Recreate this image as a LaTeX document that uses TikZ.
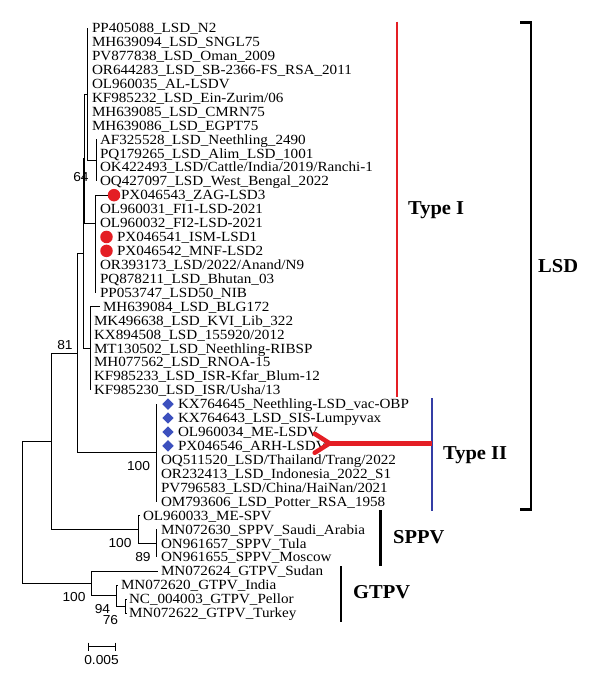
\documentclass[tikz,border=0pt]{standalone}
\usepackage{fontspec}
\setmainfont{Liberation Serif}
\newfontfamily\tipfont[FakeStretch=1.08]{Liberation Serif}
\newfontfamily\numfont[FakeStretch=1.06]{Liberation Sans}
\newfontfamily\labfont[FakeStretch=1.04]{Liberation Serif}
\usetikzlibrary{shapes.geometric}
\definecolor{tred}{RGB}{228,30,36}
\definecolor{tblue}{RGB}{52,62,165}
\definecolor{dblue}{RGB}{60,80,190}
\tikzset{
 br/.style={line width=0.9pt, black},
 tip/.style={anchor=west, inner sep=0pt, outer sep=0pt, font=\tipfont\fontsize{14}{14}\selectfont, text height=9.3pt, text depth=0pt},
 boot/.style={inner sep=0pt, font=\numfont\fontsize{13}{13}\selectfont},
 grp/.style={anchor=west, inner sep=0pt, font=\labfont\bfseries\fontsize{19.7}{20}\selectfont, text height=13pt, text depth=0pt},
 bar/.style={line width=2.5pt, black},
 rdot/.style={circle, fill=tred, inner sep=0pt, minimum size=12.5pt},
 dmd/.style={diamond, fill=dblue, inner sep=0pt, minimum width=11.5pt, minimum height=11.5pt},
}
\newcommand\mytip[5]{%
  \coordinate (e#2) at (#3,{28+13.93*#2});
  \node[tip] (lab#2) at (#4,{28+13.93*#2}) {#5};
  \draw[br] (#1) |- (e#2);
}
\begin{document}
\begin{tikzpicture}[x=1pt,y=-1pt]
\fill[white] (0,0) rectangle (600,686);
\useasboundingbox (0,0) rectangle (600,686);
% bootstrap values
\node[boot] (b64) at (81,177) {64};
\node[boot] (b81) at (65,345) {81};
\node[boot] (b100a) at (138.5,466) {100};
\node[boot] (b100b) at (120,543) {100};
\node[boot] (b89) at (143,557) {89};
\node[boot] (b100c) at (74,597) {100};
\node[boot] (b94) at (102.5,609) {94};
\node[boot] (b76) at (110.5,620) {76};
% internal nodes
\coordinate (root) at (22,512.4);
\coordinate (n5) at (51,441.33);
\coordinate (n4) at (77.5,353.19);
\coordinate (n3) at (83,253.5);
\coordinate (n2) at (84.3,158.6);
\coordinate (n1) at (87.7,94.17);
\coordinate (nb) at (96,160.34);
\coordinate (nc) at (95,223.02);
\coordinate (nc2) at (95,250.88);
\coordinate (nd) at (90,348.39);
\coordinate (ntwo) at (156,452.87);
\coordinate (sp) at (138,529.48);
\coordinate (sp2) at (156,543.41);
\coordinate (gt) at (91,583.46);
\coordinate (gt2) at (116,595.65);
\coordinate (gt3) at (125,606.1);
\draw[br] (root) |- (n5);
\draw[br] (root) |- (gt);
\draw[br] (n5) |- (n4);
\draw[br] (n5) |- (sp);
\draw[br] (n4) |- (n3);
\draw[br] (n4) |- (ntwo);
\draw[br] (n3) |- (n2);
\draw[br] (n3) |- (nd);
\draw[br] (n2) |- (n1);
\draw[br] (n2) |- (nc);
\draw[br] (n1) |- (nb);
\draw[br] (nc) |- (nc2);
\draw[br] (sp) |- (sp2);
\draw[br] (gt) |- (gt2);
\draw[br] (gt2) |- (gt3);
% tips
\mytip{n1}{0}{87.7}{92}{PP405088\_LSD\_N2}
\mytip{n1}{1}{87.7}{92}{MH639094\_LSD\_SNGL75}
\mytip{n1}{2}{87.7}{92}{PV877838\_LSD\_Oman\_2009}
\mytip{n1}{3}{87.7}{92}{OR644283\_LSD\_SB-2366-FS\_RSA\_2011}
\mytip{n1}{4}{87.7}{92}{OL960035\_AL-LSDV}
\mytip{n1}{5}{87.7}{92}{KF985232\_LSD\_Ein-Zurim/06}
\mytip{n1}{6}{87.7}{92}{MH639085\_LSD\_CMRN75}
\mytip{n1}{7}{87.7}{92}{MH639086\_LSD\_EGPT75}
\mytip{nb}{8}{96}{100}{AF325528\_LSD\_Neethling\_2490}
\mytip{nb}{9}{96}{100}{PQ179265\_LSD\_Alim\_LSD\_1001}
\mytip{nb}{10}{96}{100}{OK422493\_LSD/Cattle/India/2019/Ranchi-1}
\mytip{nb}{11}{96}{100}{OQ427097\_LSD\_West\_Bengal\_2022}
\node[rdot] (dot12) at (114,195.16) {};
\node[tip] (lab12) at (121,195.16) {PX046543\_ZAG-LSD3};
\draw[br] (nc) |- (dot12.west);
\mytip{nc2}{13}{95}{100}{OL960031\_FI1-LSD-2021}
\mytip{nc2}{14}{95}{100}{OL960032\_FI2-LSD-2021}
\mytip{nc2}{15}{95}{117}{PX046541\_ISM-LSD1}
\mytip{nc2}{16}{95}{117}{PX046542\_MNF-LSD2}
\mytip{nc2}{17}{95}{100}{OR393173\_LSD/2022/Anand/N9}
\mytip{nc2}{18}{95}{100}{PQ878211\_LSD\_Bhutan\_03}
\mytip{nc2}{19}{95}{100}{PP053747\_LSD50\_NIB}
\node[rdot] (dot15) at (106.5,236.95) {};
\node[rdot] (dot16) at (106.5,250.88) {};
\mytip{nd}{20}{100}{103}{MH639084\_LSD\_BLG172}
\mytip{nd}{21}{90}{94}{MK496638\_LSD\_KVI\_Lib\_322}
\mytip{nd}{22}{90}{94}{KX894508\_LSD\_155920/2012}
\mytip{nd}{23}{90}{94}{MT130502\_LSD\_Neethling-RIBSP}
\mytip{nd}{24}{90}{94}{MH077562\_LSD\_RNOA-15}
\mytip{nd}{25}{90}{94}{KF985233\_LSD\_ISR-Kfar\_Blum-12}
\mytip{nd}{26}{90}{94}{KF985230\_LSD\_ISR/Usha/13}
\mytip{ntwo}{27}{156}{178}{KX764645\_Neethling-LSD\_vac-OBP}
\mytip{ntwo}{28}{156}{178}{KX764643\_LSD\_SIS-Lumpyvax}
\mytip{ntwo}{29}{156}{178}{OL960034\_ME-LSDV}
\mytip{ntwo}{30}{156}{178}{PX046546\_ARH-LSDV}
\mytip{ntwo}{31}{156}{161}{OQ511520\_LSD/Thailand/Trang/2022}
\mytip{ntwo}{32}{156}{161}{OR232413\_LSD\_Indonesia\_2022\_S1}
\mytip{ntwo}{33}{156}{161}{PV796583\_LSD/China/HaiNan/2021}
\mytip{ntwo}{34}{156}{161}{OM793606\_LSD\_Potter\_RSA\_1958}
\node[dmd] (dm27) at (168,404.11) {};
\node[dmd] (dm28) at (168,418.04) {};
\node[dmd] (dm29) at (168,431.97) {};
\node[dmd] (dm30) at (168,445.90) {};
\mytip{sp}{35}{140}{143}{OL960033\_ME-SPV}
\mytip{sp2}{36}{156}{161}{MN072630\_SPPV\_Saudi\_Arabia}
\mytip{sp2}{37}{156}{161}{ON961657\_SPPV\_Tula}
\mytip{sp2}{38}{156}{161}{ON961655\_SPPV\_Moscow}
\mytip{gt}{39}{158}{161}{MN072624\_GTPV\_Sudan}
\mytip{gt2}{40}{118}{121}{MN072620\_GTPV\_India}
\mytip{gt3}{41}{127}{129}{NC\_004003\_GTPV\_Pellor}
\mytip{gt3}{42}{127}{129}{MN072622\_GTPV\_Turkey}
% scale bar
\coordinate (sc1) at (88.3,646.7);
\coordinate (sc2) at (115,646.7);
\draw[br] (sc1) -- (sc2);
\draw[br] ([yshift=4pt]sc1) -- ([yshift=-4pt]sc1);
\draw[br] ([yshift=4pt]sc2) -- ([yshift=-4pt]sc2);
\node[boot] (sclab) at (101.5,660) {0.005};
% group bars
\coordinate (redT) at (396.7,21.7);
\coordinate (redB) at (396.7,397);
\draw[tred, line width=2.2pt] (redT) -- (redB);
\node[grp] (typeI) at (408,207.5) {Type I};
\coordinate (lsdA) at (520,22.7);
\coordinate (lsdB) at (531,22.7);
\coordinate (lsdC) at (531,509.3);
\coordinate (lsdD) at (520,509.3);
\draw[bar, line join=miter] (lsdA) -- (lsdB) -- (lsdC) -- (lsdD);
\node[grp] (lsd) at (538,265.5) {LSD};
\coordinate (bluT) at (431.7,398.3);
\coordinate (bluB) at (431.7,510.7);
\draw[tblue, line width=2.2pt] (bluT) -- (bluB);
\node[grp] (typeII) at (443,453) {Type II};
\coordinate (spT) at (380.7,510);
\coordinate (spB) at (380.7,566);
\draw[bar] (spT) -- (spB);
\node[grp] (sppv) at (393,536.7) {SPPV};
\coordinate (gtT) at (341,566);
\coordinate (gtB) at (341,621.7);
\draw[bar] (gtT) -- (gtB);
\node[grp] (gtpv) at (353,592.3) {GTPV};
% arrow
\coordinate (abase) at (431.7,443.3);
\path (abase -| lab30.east) ++(3,0) coordinate (atip);
\draw[tred, line width=4.5pt] (abase) -- ([xshift=-3pt]atip);
\draw[tred, line width=4.5pt, line cap=round, line join=round] ([xshift=-15pt,yshift=-9.5pt]atip) -- (atip) -- ([xshift=-15pt,yshift=9.5pt]atip);
\end{tikzpicture}
\end{document}
